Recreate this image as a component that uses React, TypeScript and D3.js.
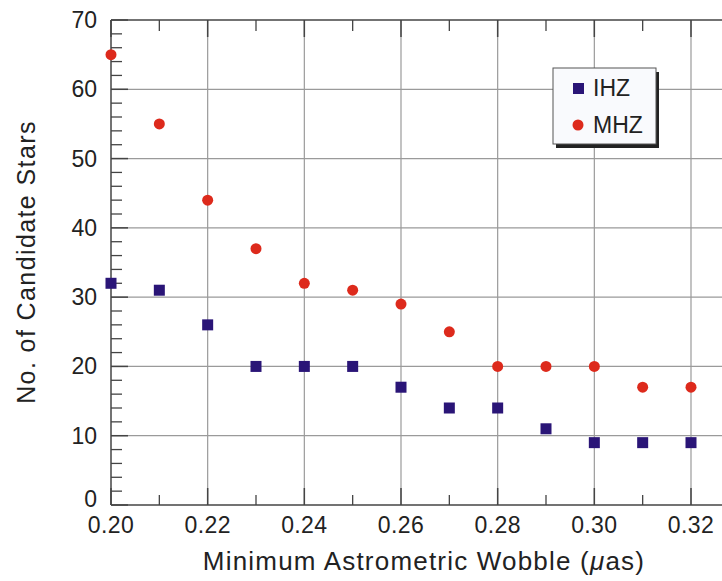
import React from "react";
import * as d3 from "d3";

const wobble = [0.2, 0.21, 0.22, 0.23, 0.24, 0.25, 0.26, 0.27, 0.28, 0.29, 0.3, 0.31, 0.32];
const ihz = [32, 31, 26, 20, 20, 20, 17, 14, 14, 11, 9, 9, 9];
const mhz = [65, 55, 44, 37, 32, 31, 29, 25, 20, 20, 20, 17, 17];
const xMajor = [0.2, 0.22, 0.24, 0.26, 0.28, 0.3, 0.32];
const xMinor = [0.21, 0.23, 0.25, 0.27, 0.29, 0.31, 0.33];
const yMajor = [0, 10, 20, 30, 40, 50, 60, 70];
const yMinor = d3.range(0, 71, 2).filter((v) => v % 10 !== 0);
const seriesNames = ["IHZ", "MHZ"];

const W = 722, H = 581;
const L = 111, T = 20, B = 505;

export default function App() {
  const x = d3.scaleLinear().domain([0.2, 0.32]).range([L, 691]);
  const y = d3.scaleLinear().domain([0, 70]).range([B, T]);
  const R = 740;
  const axisC = "#444";
  const gridC = "#9a9a9a";
  const font = "Liberation Sans, Arial, Helvetica, sans-serif";
  const sq = 11;
  return (
    <svg width={W} height={H} style={{ position: "absolute", left: 0, top: 0 }}>
      <rect width={W} height={H} fill="white" />
      {/* grid */}
      {xMajor.slice(1).map((v) => (
        <line key={"gx" + v} x1={x(v)} x2={x(v)} y1={T} y2={B} stroke={gridC} strokeWidth={1.2} />
      ))}
      {yMajor.slice(1, -1).map((v) => (
        <line key={"gy" + v} x1={L} x2={R} y1={y(v)} y2={y(v)} stroke={gridC} strokeWidth={1.2} />
      ))}
      {/* axes frame */}
      <line x1={L} x2={R} y1={T} y2={T} stroke={axisC} strokeWidth={1.5} />
      <line x1={L} x2={R} y1={B} y2={B} stroke={axisC} strokeWidth={1.5} />
      <line x1={L} x2={L} y1={T} y2={B} stroke={axisC} strokeWidth={1.5} />
      {/* y ticks */}
      {yMajor.map((v) => (
        <line key={"ym" + v} x1={L} x2={L + 17} y1={y(v)} y2={y(v)} stroke={axisC} strokeWidth={1.5} />
      ))}
      {yMinor.map((v) => (
        <line key={"yn" + v} x1={L} x2={L + 11} y1={y(v)} y2={y(v)} stroke={axisC} strokeWidth={1.3} />
      ))}
      {/* x ticks */}
      {xMajor.map((v) => (
        <g key={"xm" + v}>
          <line x1={x(v)} x2={x(v)} y1={B} y2={B - 17} stroke={axisC} strokeWidth={1.5} />
          <line x1={x(v)} x2={x(v)} y1={T} y2={T + 17} stroke={axisC} strokeWidth={1.5} />
        </g>
      ))}
      {xMinor.map((v) => (
        <g key={"xn" + v}>
          <line x1={x(v)} x2={x(v)} y1={B} y2={B - 10} stroke={axisC} strokeWidth={1.3} />
          <line x1={x(v)} x2={x(v)} y1={T} y2={T + 11} stroke={axisC} strokeWidth={1.3} />
        </g>
      ))}
      {/* tick labels */}
      {yMajor.map((v) => (
        <text key={"yl" + v} x={97} y={y(v) + (v === 0 ? 2 : 8)} textAnchor="end" fontFamily={font} fontSize={23} fill="#222">
          {v}
        </text>
      ))}
      {xMajor.map((v) => (
        <text key={"xl" + v} x={x(v)} y={533} textAnchor="middle" fontFamily={font} fontSize={23} letterSpacing={0.4} fill="#222">
          {v.toFixed(2)}
        </text>
      ))}
      {/* axis titles */}
      <text x={424} y={570} textAnchor="middle" fontFamily={font} fontSize={26} letterSpacing={1.2} fill="#222">
        Minimum Astrometric Wobble (<tspan fontStyle="italic">μ</tspan>as)
      </text>
      <text transform={`translate(35,262) rotate(-90)`} textAnchor="middle" fontFamily={font} fontSize={25} letterSpacing={1.4} fill="#222">
        No. of Candidate Stars
      </text>
      {/* data */}
      {wobble.map((w, i) => (
        <circle key={"m" + i} cx={x(w)} cy={y(mhz[i])} r={5.5} fill="#dd2a1c" />
      ))}
      {wobble.map((w, i) => (
        <rect key={"i" + i} x={x(w) - sq / 2} y={y(ihz[i]) - sq / 2} width={sq} height={sq} fill="#2a1577" />
      ))}
      {/* legend */}
      <rect x={556} y={72} width={103} height={76} fill="#222" />
      <rect x={553} y={68} width={103} height={76} fill="#f9fafd" stroke="#555" strokeWidth={1} />
      <rect x={573} y={83} width={11} height={11} fill="#2a1577" />
      <circle cx={578} cy={125} r={5.5} fill="#dd2a1c" />
      <text x={593} y={96} fontFamily={font} fontSize={23} fill="#222">{seriesNames[0]}</text>
      <text x={593} y={133} fontFamily={font} fontSize={23} fill="#222">{seriesNames[1]}</text>
    </svg>
  );
}
